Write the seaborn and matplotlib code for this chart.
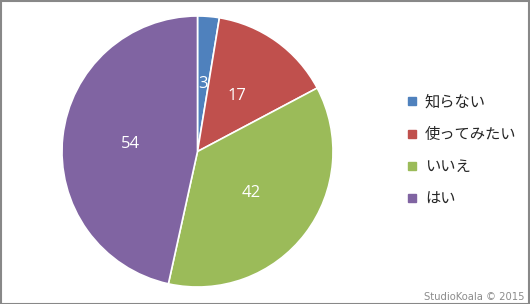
import matplotlib
matplotlib.use("Agg")
import matplotlib.pyplot as plt
import seaborn as sns
from matplotlib.lines import Line2D
from matplotlib.patches import Rectangle

categories = ["知らない", "使ってみたい", "いいえ", "はい"]
values = [3, 17, 42, 54]
colors = ["#4F81BD", "#C0504D", "#9BBB59", "#8064A2"]

sns.set_theme(style="white")
plt.rcParams['font.family'] = ['Noto Sans CJK JP', 'DejaVu Sans']
palette = sns.color_palette(colors)

W, H = 530, 304
fig = plt.figure(figsize=(W / 100, H / 100), dpi=100)
fig.patch.set_facecolor("white")

cx, cy, r = 197.5, 151.5, 135.5
ax = fig.add_axes([(cx - r) / W, (H - cy - r) / H, 2 * r / W, 2 * r / H])
wedges, texts = ax.pie(values, colors=palette, startangle=90, counterclock=False,
                       labels=[str(v) for v in values], labeldistance=0.5,
                       wedgeprops=dict(edgecolor="white", linewidth=1.2),
                       textprops=dict(color="white", fontsize=12, family=['Open Sans', 'DejaVu Sans']))
for t in texts:
    t.set_ha("center")
    t.set_va("center")
ax.set_xlim(-1, 1)
ax.set_ylim(-1, 1)
ax.set_aspect("equal")
ax.axis("off")

handles = [Line2D([], [], marker="s", linestyle="none", markersize=6,
                  markerfacecolor=c, markeredgecolor=c) for c in palette]
leg = fig.legend(handles, categories, loc="center left",
                 bbox_to_anchor=(398 / W, 1 - 150.5 / H), frameon=False,
                 fontsize=11, labelspacing=1.0, handlelength=0.8,
                 handletextpad=0.45, borderpad=0)

fig.text(525 / W, 1 - 297 / H, "StudioKoala © 2015", ha="right", va="center",
         fontsize=7.2, color="#8c8c8c", family=['DejaVu Sans'])

fig.patches.append(Rectangle((0.5 / W, 0.5 / H), 1 - 1.5 / W, 1 - 1.5 / H,
                             transform=fig.transFigure, fill=False,
                             edgecolor="#888888", linewidth=1.5))

fig.savefig("out.png", dpi=100)
